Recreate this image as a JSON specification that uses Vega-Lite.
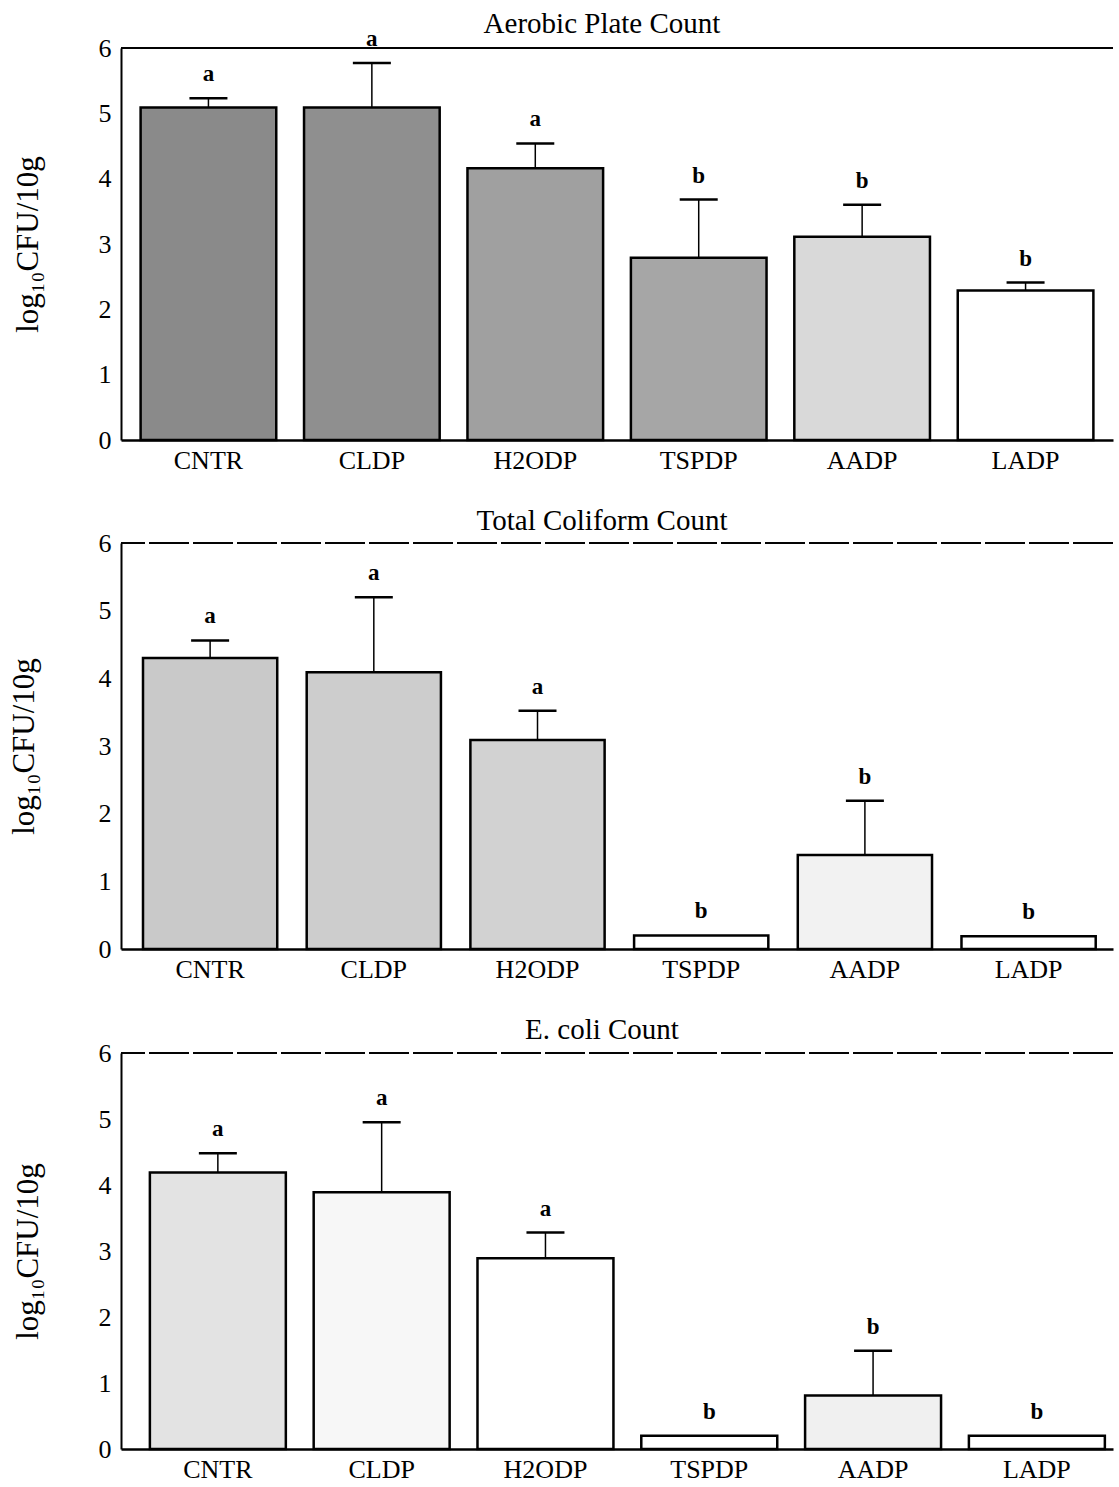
{
  "$schema": "https://vega.github.io/schema/vega-lite/v6.json",
  "background": "white",
  "padding": {"left": 8, "top": 10, "right": 4, "bottom": 0},
  "spacing": 34,
  "config": {
    "view": {"stroke": null},
    "font": "Liberation Serif",
    "title": {"font": "Liberation Serif", "fontSize": 29, "fontWeight": "normal", "color": "black", "anchor": "middle", "frame": "group", "dx": -15},
    "axis": {"labelFont": "Liberation Serif", "titleFont": "Liberation Serif", "labelColor": "black", "titleColor": "black", "domainColor": "black", "ticks": false, "grid": false}
  },
  "datasets": {
    "counts": [
      {"panel": "Aerobic", "group": "CNTR", "mean": 5.09, "upper": 5.23, "letter": "a"},
      {"panel": "Aerobic", "group": "CLDP", "mean": 5.09, "upper": 5.77, "letter": "a"},
      {"panel": "Aerobic", "group": "H2ODP", "mean": 4.16, "upper": 4.54, "letter": "a"},
      {"panel": "Aerobic", "group": "TSPDP", "mean": 2.79, "upper": 3.68, "letter": "b"},
      {"panel": "Aerobic", "group": "AADP", "mean": 3.11, "upper": 3.60, "letter": "b"},
      {"panel": "Aerobic", "group": "LADP", "mean": 2.29, "upper": 2.41, "letter": "b"},
      {"panel": "Coliform", "group": "CNTR", "mean": 4.30, "upper": 4.56, "letter": "a"},
      {"panel": "Coliform", "group": "CLDP", "mean": 4.09, "upper": 5.20, "letter": "a"},
      {"panel": "Coliform", "group": "H2ODP", "mean": 3.09, "upper": 3.52, "letter": "a"},
      {"panel": "Coliform", "group": "TSPDP", "mean": 0.20, "upper": 0.20, "letter": "b"},
      {"panel": "Coliform", "group": "AADP", "mean": 1.39, "upper": 2.19, "letter": "b"},
      {"panel": "Coliform", "group": "LADP", "mean": 0.19, "upper": 0.19, "letter": "b"},
      {"panel": "Ecoli", "group": "CNTR", "mean": 4.19, "upper": 4.48, "letter": "a"},
      {"panel": "Ecoli", "group": "CLDP", "mean": 3.89, "upper": 4.95, "letter": "a"},
      {"panel": "Ecoli", "group": "H2ODP", "mean": 2.89, "upper": 3.28, "letter": "a"},
      {"panel": "Ecoli", "group": "TSPDP", "mean": 0.20, "upper": 0.20, "letter": "b"},
      {"panel": "Ecoli", "group": "AADP", "mean": 0.81, "upper": 1.49, "letter": "b"},
      {"panel": "Ecoli", "group": "LADP", "mean": 0.20, "upper": 0.20, "letter": "b"}
    ]
  },
  "resolve": {"scale": {"fill": "independent"}},
  "vconcat": [
    {
      "title": {"text": "Aerobic Plate Count", "offset": -11},
      "width": 992, "height": 392,
      "data": {"name": "counts"},
      "transform": [{"filter": "datum.panel == 'Aerobic'"}],
      "encoding": {
        "x": {"field": "group", "type": "nominal", "sort": null, "scale": {"paddingInner": 0.17, "paddingOuter": 0.12, "align": 0.5},
              "axis": {"title": null, "labelAngle": 0, "labelFontSize": 26, "labelPadding": 7, "domainWidth": 2.5}},
        "y": {"type": "quantitative", "scale": {"domain": [0, 6]},
              "axis": {"title": "log₁₀CFU/10g", "titleFontSize": 31, "titleFontWeight": "normal", "titlePadding": 54, "values": [0,1,2,3,4,5,6], "labelFontSize": 26, "labelPadding": 10, "domainWidth": 2}}
      },
      "layer": [
        {"mark": {"type": "rule", "strokeWidth": 1.2, "color": "black"}, "encoding": {"y": {"datum": 6}, "x": null}},
        {"mark": {"type": "rule", "strokeWidth": 1.5, "color": "black"}, "encoding": {"y": {"field": "mean"}, "y2": {"field": "upper"}}},
        {"transform": [{"filter": "datum.upper > datum.mean"}], "mark": {"type": "tick", "thickness": 2.5, "size": 38, "color": "black", "opacity": 1}, "encoding": {"y": {"field": "upper"}}},
        {"mark": {"type": "bar", "stroke": "black", "strokeWidth": 2.5},
         "encoding": {"y": {"field": "mean"}, "fill": {"field": "group", "type": "nominal", "legend": null, "scale": {"domain": ["CNTR","CLDP","H2ODP","TSPDP","AADP","LADP"], "range": ["#8a8a8a","#8f8f8f","#a0a0a0","#a6a6a6","#d9d9d9","#ffffff"]}}}},
        {"mark": {"type": "text", "baseline": "bottom", "dy": -12, "fontSize": 23, "fontWeight": "bold", "font": "Liberation Serif"}, "encoding": {"y": {"field": "upper"}, "text": {"field": "letter"}}}
      ]
    },
    {
      "title": {"text": "Total Coliform Count", "offset": -6},
      "width": 992, "height": 406,
      "data": {"name": "counts"},
      "transform": [{"filter": "datum.panel == 'Coliform'"}],
      "encoding": {
        "x": {"field": "group", "type": "nominal", "sort": null, "scale": {"paddingInner": 0.18, "paddingOuter": 0.12, "align": 0.56},
              "axis": {"title": null, "labelAngle": 0, "labelFontSize": 26, "labelPadding": 7, "domainWidth": 2.5}},
        "y": {"type": "quantitative", "scale": {"domain": [0, 6]},
              "axis": {"title": "log₁₀CFU/10g", "titleFontSize": 31, "titleFontWeight": "normal", "titlePadding": 58, "values": [0,1,2,3,4,5,6], "labelFontSize": 26, "labelPadding": 10, "domainWidth": 2}}
      },
      "layer": [
        {"mark": {"type": "rule", "strokeWidth": 1, "color": "black", "strokeDash": [40, 4]}, "encoding": {"y": {"datum": 6}, "x": null}},
        {"mark": {"type": "rule", "strokeWidth": 1.5, "color": "black"}, "encoding": {"y": {"field": "mean"}, "y2": {"field": "upper"}}},
        {"transform": [{"filter": "datum.upper > datum.mean"}], "mark": {"type": "tick", "thickness": 2.5, "size": 38, "color": "black", "opacity": 1}, "encoding": {"y": {"field": "upper"}}},
        {"mark": {"type": "bar", "stroke": "black", "strokeWidth": 2.5},
         "encoding": {"y": {"field": "mean"}, "fill": {"field": "group", "type": "nominal", "legend": null, "scale": {"domain": ["CNTR","CLDP","H2ODP","TSPDP","AADP","LADP"], "range": ["#c9c9c9","#cdcdcd","#d2d2d2","#ffffff","#f2f2f2","#ffffff"]}}}},
        {"mark": {"type": "text", "baseline": "bottom", "dy": -12, "fontSize": 23, "fontWeight": "bold", "font": "Liberation Serif"}, "encoding": {"y": {"field": "upper"}, "text": {"field": "letter"}}}
      ]
    },
    {
      "title": {"text": "E. coli Count", "offset": -5},
      "width": 992, "height": 396,
      "data": {"name": "counts"},
      "transform": [{"filter": "datum.panel == 'Ecoli'"}],
      "encoding": {
        "x": {"field": "group", "type": "nominal", "sort": null, "scale": {"paddingInner": 0.17, "paddingOuter": 0.113, "align": 0.78},
              "axis": {"title": null, "labelAngle": 0, "labelFontSize": 26, "labelPadding": 7, "domainWidth": 2.5}},
        "y": {"type": "quantitative", "scale": {"domain": [0, 6]},
              "axis": {"title": "log₁₀CFU/10g", "titleFontSize": 31, "titleFontWeight": "normal", "titlePadding": 54, "values": [0,1,2,3,4,5,6], "labelFontSize": 26, "labelPadding": 10, "domainWidth": 2}}
      },
      "layer": [
        {"mark": {"type": "rule", "strokeWidth": 1, "color": "black", "strokeDash": [40, 4]}, "encoding": {"y": {"datum": 6}, "x": null}},
        {"mark": {"type": "rule", "strokeWidth": 1.5, "color": "black"}, "encoding": {"y": {"field": "mean"}, "y2": {"field": "upper"}}},
        {"transform": [{"filter": "datum.upper > datum.mean"}], "mark": {"type": "tick", "thickness": 2.5, "size": 38, "color": "black", "opacity": 1}, "encoding": {"y": {"field": "upper"}}},
        {"mark": {"type": "bar", "stroke": "black", "strokeWidth": 2.5},
         "encoding": {"y": {"field": "mean"}, "fill": {"field": "group", "type": "nominal", "legend": null, "scale": {"domain": ["CNTR","CLDP","H2ODP","TSPDP","AADP","LADP"], "range": ["#e3e3e3","#f7f7f7","#ffffff","#ffffff","#f0f0f0","#ffffff"]}}}},
        {"mark": {"type": "text", "baseline": "bottom", "dy": -12, "fontSize": 23, "fontWeight": "bold", "font": "Liberation Serif"}, "encoding": {"y": {"field": "upper"}, "text": {"field": "letter"}}}
      ]
    }
  ]
}
